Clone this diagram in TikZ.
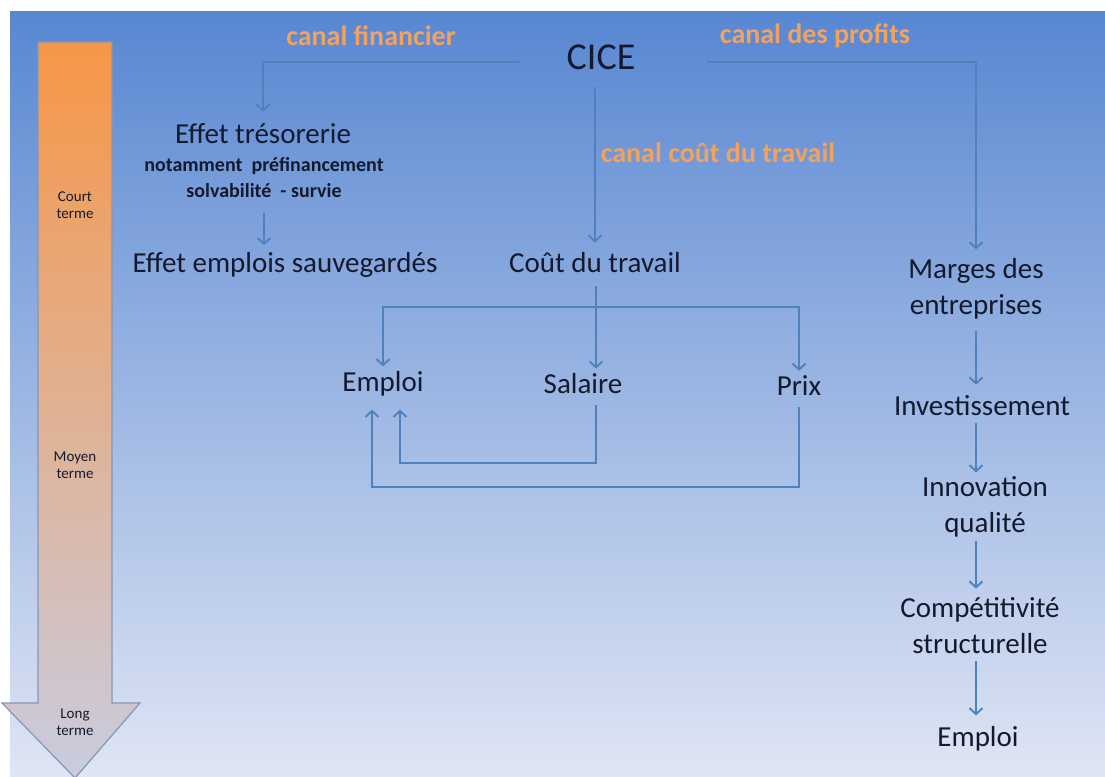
\documentclass[tikz,border=0pt]{standalone}
\usepackage{fontspec}
\setmainfont{Carlito}
\usepackage{tikz}
\usetikzlibrary{arrows.meta}

\definecolor{fondhaut}{HTML}{5887D2}
\definecolor{fondbas}{HTML}{DFE5F4}
\definecolor{trait}{HTML}{4F81BD}
\definecolor{canalorange}{HTML}{F3A25E}
\definecolor{texte}{HTML}{141A2E}
\definecolor{dureehaut}{HTML}{F79646}
\definecolor{dureebas}{HTML}{C9CCE0}
\definecolor{dureebord}{HTML}{8497B5}

\tikzset{
  lien/.style={draw=trait, line width=1.9pt, -{Straight Barb[length=6pt,width=13pt]}},
  etape/.style={text=texte, font=\fontsize{29}{36}\selectfont, align=center, inner sep=3pt},
  canal/.style={text=canalorange, font=\bfseries\fontsize{28}{30}\selectfont, inner sep=3pt},
  duree/.style={text=texte, font=\fontsize{15}{17}\selectfont, align=center, inner sep=1pt}
}

\begin{document}
\begin{tikzpicture}[x=1pt,y=-1pt]
\useasboundingbox (0,0) rectangle (1105,776);
\fill[top color=fondhaut, bottom color=fondbas] (10,12) rectangle (1105,776);

\draw[dureebord, line width=1.2pt, top color=dureehaut, bottom color=dureebas]
  (38,42) -- (112,42) -- (112,703) -- (140,703) -- (75,778) -- (2,703) -- (38,703) -- cycle;
\node[duree] (court) at (75,205) {Court\\terme};
\node[duree] (moyen) at (75,465) {Moyen\\terme};
\node[duree] (long) at (75,722) {Long\\terme};

\node[etape, font=\fontsize{38}{40}\selectfont] (cice) at (601,57) {CICE};
\node[canal] (financier) at (371,36) {canal financier};
\node[canal] (profits) at (815,36) {canal des profits};
\node[canal] (travail) at (718,153) {canal coût du travail};

\node[etape] (tres) at (263,134) {Effet trésorerie};
\node[etape, font=\bfseries\fontsize{20}{26}\selectfont] (tressub) at (264,178) {notamment\ \ préfinancement\\solvabilité\ \ - survie};
\node[etape] (sauv) at (285,265) {Effet emplois sauvegardés};
\node[etape] (cout) at (595,263) {Coût du travail};

\node[etape] (emploi) at (383,384) {Emploi};
\node[etape] (salaire) at (583,384) {Salaire};
\node[etape] (prix) at (799,386) {Prix};

\node[etape] (marges) at (976,289) {Marges des\\entreprises};
\node[etape] (invest) at (982,406) {Investissement};
\node[etape] (innov) at (985,507) {Innovation\\qualité};
\node[etape] (compet) at (980,626) {Compétitivité\\structurelle};
\node[etape] (emploib) at (978,739) {Emploi};

\draw[lien, shorten <=44pt, shorten >=9pt] ([yshift=-5pt]cice.west) -| (tres.north);
\draw[lien, shorten <=68pt, shorten >=6pt] ([yshift=-5pt]cice.east) -| (marges.north);
\draw[lien, shorten <=14pt, shorten >=7pt] (cice.south -| cout.north) -- (cout.north);
\draw[lien, shorten <=12pt, shorten >=4pt] (tressub.south) -- (tressub.south |- sauv.north);

\coordinate (br) at (596,307);
\draw[lien, shorten <=10pt, shorten >=2pt] (cout.south -| br) -- (br |- salaire.north);
\draw[lien, shorten >=2pt] (br) -| (emploi.north);
\draw[lien, shorten >=2pt] (br) -| (prix.north);
\draw[lien, shorten <=8pt, shorten >=10pt] (br |- salaire.south) -- ++(0,66) -| ([xshift=17pt]emploi.south);
\draw[lien, shorten <=8pt, shorten >=10pt] (prix.south -| prix.north) -- ++(0,88) -| ([xshift=-11pt]emploi.south);

\draw[lien, shorten <=8pt, shorten >=8pt] (marges.south) -- (marges.south |- invest.north);
\draw[lien, shorten <=4pt, shorten >=1pt] (invest.south -| marges.south) -- (marges.south |- innov.north);
\draw[lien, shorten <=0pt, shorten >=6pt] (innov.south -| marges.south) -- (marges.south |- compet.north);
\draw[lien, shorten <=4pt, shorten >=8pt] (compet.south -| marges.south) -- (marges.south |- emploib.north);
\end{tikzpicture}
\end{document}
